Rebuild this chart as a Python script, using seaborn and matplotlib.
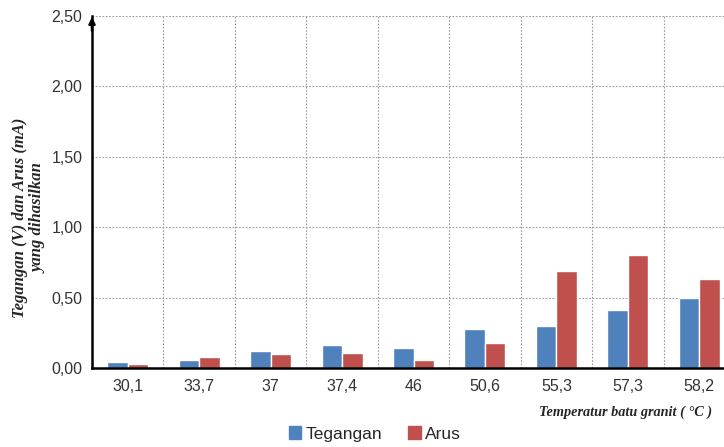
import matplotlib
matplotlib.use("Agg")
import matplotlib.pyplot as plt
import seaborn as sns
import pandas as pd
from matplotlib.ticker import FixedLocator, FuncFormatter

# data
temperatures = ["30,1", "33,7", "37", "37,4", "46", "50,6", "55,3", "57,3", "58,2"]
tegangan = [0.04, 0.06, 0.12, 0.16, 0.14, 0.28, 0.30, 0.41, 0.50]
arus = [0.03, 0.08, 0.10, 0.11, 0.06, 0.18, 0.69, 0.80, 0.63]
series = ["Tegangan", "Arus"]
colors = ["#4F81BD", "#C0504D"]

df = pd.DataFrame({
    "Temperatur": temperatures * 2,
    "Nilai": tegangan + arus,
    "Seri": [series[0]] * len(temperatures) + [series[1]] * len(temperatures),
})

sns.set_style("white")
plt.rcParams["font.family"] = ["Liberation Sans", "DejaVu Sans"]

fig = plt.figure(figsize=(7.24, 4.47), dpi=100)
ax = fig.add_axes([92 / 724, 1 - 368 / 447, 643 / 724, 352 / 447])

sns.barplot(data=df, x="Temperatur", y="Nilai", hue="Seri", order=temperatures,
            hue_order=series, palette=colors, width=0.575, saturation=1,
            legend=False, ax=ax)

ax.set_xlim(-0.5, len(temperatures) - 0.5)
ax.set_ylim(0, 2.5)
ax.set_yticks([0, 0.5, 1.0, 1.5, 2.0, 2.5])
ax.yaxis.set_major_formatter(FuncFormatter(lambda v, p: f"{v:.2f}".replace(".", ",")))
ax.xaxis.set_minor_locator(FixedLocator([i + 0.5 for i in range(-1, len(temperatures))]))

# grid: dotted grey, horizontal at y ticks, vertical between categories
ax.grid(axis="y", which="major", linestyle=(0, (1.5, 1.5)), color="#9a9a9a", linewidth=0.8)
ax.grid(axis="x", which="minor", linestyle=(0, (1.5, 1.5)), color="#9a9a9a", linewidth=0.8)
ax.set_axisbelow(True)

for side in ["top", "right"]:
    ax.spines[side].set_visible(False)
for side in ["left", "bottom"]:
    ax.spines[side].set_color("black")
    ax.spines[side].set_linewidth(1.8)

ax.tick_params(axis="x", which="major", length=0, labelsize=11.5, pad=8, labelcolor="#333333")
ax.tick_params(axis="x", which="minor", length=5, width=1.5, direction="out", color="black")
ax.tick_params(axis="y", length=5, width=1.5, direction="out", labelsize=11.5, pad=2,
               labelcolor="#333333", color="black")

# arrow head at top of y axis
ax.annotate("", xy=(0, 1.005), xytext=(0, 0.95), xycoords="axes fraction",
            arrowprops=dict(arrowstyle="-|>", color="black", lw=1.8, mutation_scale=9),
            annotation_clip=False)

ax.set_xlabel("")
ax.set_ylabel("")
fig.text(29 / 724, 1 - 218 / 447, "Tegangan (V) dan Arus (mA)\nyang dihasilkan",
         rotation=90, ha="center", va="center", multialignment="center", fontsize=12,
         fontweight="bold", fontstyle="italic", family="Liberation Serif", linespacing=1.2)

fig.text(712 / 724, 1 - 412 / 447, "Temperatur batu granit ( \u00b0C )", ha="right",
         va="center", fontsize=10.3, fontweight="bold", fontstyle="italic",
         family="Liberation Serif")

handles = [plt.Rectangle((0, 0), 1, 1, color=c) for c in colors]
fig.legend(handles, series, loc="center", bbox_to_anchor=(375 / 724, 1 - 434 / 447),
           ncol=2, frameon=False, fontsize=12.5, handlelength=0.7, handleheight=0.7,
           handletextpad=0.25, columnspacing=1.5)

fig.savefig("out.png", dpi=100)
